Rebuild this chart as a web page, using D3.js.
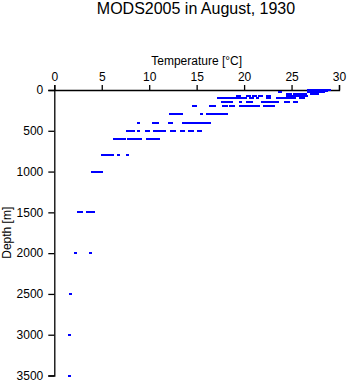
<!DOCTYPE html>
<html>
<head>
<meta charset="utf-8">
<script src="https://cdn.jsdelivr.net/npm/d3@7"></script>
<style>
  html, body { margin: 0; padding: 0; background: #fff; }
  svg { display: block; font-family: "Liberation Sans", Arial, Helvetica, sans-serif; }
</style>
</head>
<body>
<svg id="chart" width="348" height="384"></svg>
<script>
const title = "MODS2005 in August, 1930";
const xLabel = "Temperature [°C]";
const yLabel = "Depth [m]";
const xTicks = [0, 5, 10, 15, 20, 25, 30];
const yTicks = [0, 500, 1000, 1500, 2000, 2500, 3000, 3500];

const levels = [0, 10, 20, 30, 50, 75, 100, 150, 200, 300, 400, 500, 600, 800, 1000, 1500, 2000, 2500, 3000, 3500];
const temperatures = [
  [26.8, 27.0, 27.2, 27.4, 27.6, 27.8, 28.0, 28.2, 28.4, 28.6, 28.8, 29.0],
  [26.9, 27.1, 27.3, 27.5, 27.7, 27.9, 28.1, 28.3, 28.5, 28.7],
  [23.8, 26.8, 27.0, 27.2, 27.4, 27.6, 27.8, 28.0, 28.2, 28.4],
  [23.7, 27.0, 27.2, 27.4, 27.6, 27.8, 28.0],
  [24.6, 24.9, 25.3, 25.6, 25.9, 26.2, 26.5, 27.1, 27.4, 27.7],
  [19.3, 19.5, 20.4, 20.6, 21.0, 21.2, 21.6, 21.8, 22.5, 22.7, 24.6, 24.9, 25.2, 25.4, 25.7, 25.9, 26.1, 26.3, 26.6],
  [17.3, 17.5, 17.7, 17.9, 18.1, 18.3, 18.5, 18.7, 18.9, 19.1, 19.3, 19.5, 19.7, 19.9, 20.1, 20.7, 20.9, 21.4, 22.5, 22.7, 23.5, 23.7, 23.9, 24.1, 24.4, 24.6, 24.8, 25.0, 25.3, 25.9, 26.1, 26.3],
  [17.7, 17.9, 18.1, 18.3, 18.5, 18.7, 19.6, 20.4, 20.6, 20.8, 21.9, 22.1, 22.3, 22.5, 22.7, 22.9, 23.1, 23.3, 23.5, 24.4, 24.7, 25.3, 25.5],
  [14.7, 14.9, 16.5, 16.7, 16.9, 17.8, 18.1, 18.6, 18.9, 19.6, 19.8, 20.0, 20.2, 20.4, 20.6, 20.8, 21.0, 21.2, 21.5, 22.1, 22.3, 22.5, 22.7, 22.9, 23.1],
  [12.2, 12.4, 12.6, 12.8, 13.0, 13.2, 13.4, 15.5, 16.1, 16.3, 16.5, 16.7, 16.9, 17.1, 17.3, 17.5, 17.7, 17.9, 18.1],
  [8.9, 10.5, 10.7, 10.9, 12.1, 12.3, 13.6, 13.8, 14.0, 14.2, 14.4, 14.6, 14.8, 15.0, 15.2, 15.4, 15.6, 15.8, 16.0, 16.2, 16.4],
  [7.7, 7.9, 8.1, 8.3, 8.9, 9.7, 9.9, 10.6, 10.8, 11.0, 11.2, 11.4, 11.6, 12.3, 12.5, 12.7, 13.4, 13.6, 14.2, 14.4, 14.6, 15.2, 15.4],
  [6.3, 6.5, 6.7, 6.9, 7.1, 7.4, 7.8, 8.0, 8.2, 8.4, 8.6, 8.8, 9.1, 9.8, 10.0, 10.2, 10.4, 10.6, 10.8, 11.0],
  [5.1, 5.3, 5.5, 5.7, 5.9, 6.1, 6.8, 7.7],
  [4.0, 4.2, 4.4, 4.6, 4.8, 5.0],
  [2.5, 2.7, 2.9, 3.5, 3.8, 4.1],
  [2.2, 3.8],
  [1.7],
  [1.6],
  [1.55]
];

const points = [];
levels.forEach((d, i) => temperatures[i].forEach(t => points.push({ depth: d, temp: t })));

const svg = d3.select("#chart");
const margin = { left: 54.3, right: 9, top: 90, bottom: 8.5 };
const W = 348, H = 384;

const x = d3.scaleLinear().domain([0, 30]).range([margin.left, W - margin.right]);
const y = d3.scaleLinear().domain([0, 3500]).range([margin.top, H - margin.bottom]);

// title
svg.append("text")
  .attr("x", 196).attr("y", 14)
  .attr("text-anchor", "middle")
  .attr("font-size", 16)
  .text(title);

// x axis on top
const xAxis = svg.append("g")
  .attr("transform", `translate(0,${margin.top})`)
  .call(d3.axisTop(x).tickValues(xTicks).tickSize(5).tickPadding(4).tickFormat(d3.format("d")));
xAxis.selectAll("text").attr("font-size", 12).attr("font-family", null).attr("fill", "#000");

// y axis on left
const yAxis = svg.append("g")
  .attr("transform", `translate(${margin.left},0)`)
  .call(d3.axisLeft(y).tickValues(yTicks).tickSize(6).tickPadding(5).tickFormat(d3.format("d")));
yAxis.selectAll("text").attr("font-size", 12).attr("font-family", null).attr("fill", "#000");

[xAxis, yAxis].forEach(g => {
  g.select(".domain").attr("stroke", "#000").attr("stroke-width", 1.3);
  g.selectAll(".tick line").attr("stroke", "#000").attr("stroke-width", 1.3);
});

// axis titles
svg.append("text")
  .attr("x", (x(0) + x(30)) / 2).attr("y", 65)
  .attr("text-anchor", "middle")
  .attr("font-size", 12)
  .text(xLabel);

svg.append("text")
  .attr("transform", `translate(11,${(y(0) + y(3500)) / 2}) rotate(-90)`)
  .attr("text-anchor", "middle")
  .attr("font-size", 12)
  .text(yLabel);

// points
svg.append("g")
  .selectAll("rect")
  .data(points)
  .join("rect")
  .attr("x", d => x(d.temp) - 1.5)
  .attr("y", d => y(d.depth) - 1)
  .attr("width", 3)
  .attr("height", 2)
  .attr("fill", "#0000ff")
  .attr("shape-rendering", "crispEdges");
</script>
</body>
</html>
